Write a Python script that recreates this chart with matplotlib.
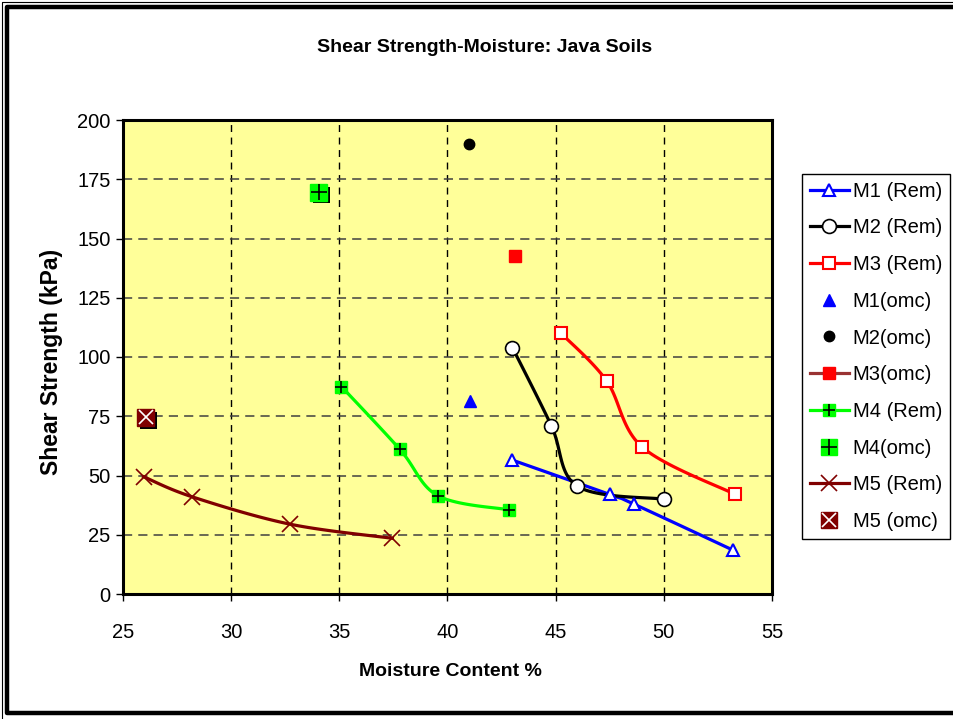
import numpy as np
import matplotlib
matplotlib.use("Agg")
import matplotlib.pyplot as plt
import matplotlib.patheffects as pe
from matplotlib.lines import Line2D

# ---------------- data ----------------
m1_rem_x = [43.0, 47.5, 48.6, 53.2]
m1_rem_y = [56.5, 42.0, 38.0, 18.5]
m2_rem_x = [43.0, 44.8, 46.0, 50.0]
m2_rem_y = [104.0, 71.0, 45.5, 40.0]
m3_rem_x = [45.25, 47.35, 49.0, 53.3]
m3_rem_y = [110.0, 90.0, 62.0, 42.0]
m4_rem_x = [35.1, 37.8, 39.55, 42.85]
m4_rem_y = [87.5, 61.0, 41.5, 35.5]
m5_rem_x = [25.95, 28.2, 32.7, 37.45]
m5_rem_y = [49.5, 41.0, 29.5, 23.5]
m1_omc = (41.05, 81.5)
m2_omc = (41.0, 190.0)
m3_omc = (43.1, 142.5)
m4_omc = (34.05, 169.5)
m5_omc = (26.05, 74.5)

x_ticks = [25, 30, 35, 40, 45, 50, 55]
y_ticks = [0, 25, 50, 75, 100, 125, 150, 175, 200]

legend_labels = ["M1 (Rem)", "M2 (Rem)", "M3 (Rem)", "M1(omc)", "M2(omc)",
                 "M3(omc)", "M4 (Rem)", "M4(omc)", "M5 (Rem)", "M5 (omc)"]

title = "Shear Strength-Moisture: Java Soils"
xlabel = "Moisture Content %"
ylabel = "Shear Strength (kPa)"

FONT = ["Liberation Sans", "DejaVu Sans"]


def smooth(xs, ys, n=24):
    """Uniform Catmull-Rom curve through the points (Excel-style smoothing)."""
    p = np.column_stack([xs, ys]).astype(float)
    p = np.vstack([p[0], p, p[-1]])
    out = []
    t = np.linspace(0, 1, n)[:, None]
    for i in range(1, len(p) - 2):
        p0, p1, p2, p3 = p[i - 1], p[i], p[i + 1], p[i + 2]
        seg = 0.5 * ((2 * p1) + (-p0 + p2) * t + (2 * p0 - 5 * p1 + 4 * p2 - p3) * t ** 2
                     + (-p0 + 3 * p1 - 3 * p2 + p3) * t ** 3)
        out.append(seg if i == 1 else seg[1:])
    c = np.vstack(out)
    return c[:, 0], c[:, 1]


fig = plt.figure(figsize=(9.54, 7.19), dpi=100)
fig.patch.set_facecolor("white")

# outer frame (open on the right, as in the reference crop)
W, H = 954.0, 719.0
fig.add_artist(Line2D(np.array([1000, 7, 7, 1000]) / W, 1 - np.array([7, 7, 712.5, 712.5]) / H,
                      transform=fig.transFigure, lw=3.2, color="black"))
fig.add_artist(Line2D(np.array([1000, 1.5, 1.5]) / W, 1 - np.array([1.5, 1.5, 719]) / H,
                      transform=fig.transFigure, lw=0.8, color="black"))

ax = fig.add_axes([123 / W, 1 - 594 / H, 649 / W, 474 / H])
ax.set_facecolor("#FFFF99")
ax.set_xlim(25, 55)
ax.set_ylim(0, 200)
ax.set_xticks(x_ticks)
ax.set_yticks(y_ticks)
for s in ax.spines.values():
    s.set_linewidth(2.2)
    s.set_color("black")
ax.tick_params(direction="out", length=5, width=1, colors="black")
ax.tick_params(axis="y", pad=4)
ax.tick_params(axis="x", pad=16)
for lab in ax.get_xticklabels() + ax.get_yticklabels():
    lab.set_family(FONT)
    lab.set_fontsize(14.5)

# grid
for xv in x_ticks[1:-1]:
    ax.axvline(xv, color="black", lw=1, ls=(0, (5, 4)), zorder=1)
for yv in y_ticks[1:-1]:
    ax.axhline(yv, color="#404040", lw=1.1, ls=(0, (6, 4)), zorder=1)

LW = 2.3
# M1 rem
sx, sy = smooth(m1_rem_x, m1_rem_y)
ax.plot(sx, sy, color="#0000FF", lw=LW, zorder=3)
ax.plot(m1_rem_x, m1_rem_y, ls="none", marker="^", ms=9, mfc="white", mec="#0000FF", mew=1.5, zorder=4)
# M2 rem
sx, sy = smooth(m2_rem_x, m2_rem_y)
ax.plot(sx, sy, color="black", lw=LW, zorder=3)
ax.plot(m2_rem_x, m2_rem_y, ls="none", marker="o", ms=10, mfc="white", mec="black", mew=1.2, zorder=4)
# M3 rem
sx, sy = smooth(m3_rem_x, m3_rem_y)
ax.plot(sx, sy, color="#FF0000", lw=LW, zorder=3)
ax.plot(m3_rem_x, m3_rem_y, ls="none", marker="s", ms=8, mfc="white", mec="#FF0000", mew=1.5, zorder=4)
# M4 rem
sx, sy = smooth(m4_rem_x, m4_rem_y)
ax.plot(sx, sy, color="#00FF00", lw=LW, zorder=3)
ax.plot(m4_rem_x, m4_rem_y, ls="none", marker="s", ms=9, mfc="#00FF00", mec="#00FF00", zorder=4)
ax.plot(m4_rem_x, m4_rem_y, ls="none", marker="+", ms=8, mec="black", mew=1.2, zorder=5)
# M5 rem
sx, sy = smooth(m5_rem_x, m5_rem_y)
ax.plot(sx, sy, color="#800000", lw=LW, zorder=3)
ax.plot(m5_rem_x, m5_rem_y, ls="none", marker="x", ms=11, mec="#800000", mew=1.2, zorder=4)

# omc points
ax.plot([m1_omc[0]], [m1_omc[1]], ls="none", marker="^", ms=9, mfc="#0000FF", mec="#0000FF", zorder=4)
ax.plot([m2_omc[0]], [m2_omc[1]], ls="none", marker="o", ms=7.5, mfc="black", mec="black", zorder=4)
ax.plot([m3_omc[0]], [m3_omc[1]], ls="none", marker="s", ms=9, mfc="#FF0000", mec="#FF0000", zorder=4)
shadow = [pe.SimplePatchShadow(offset=(2, -2), shadow_rgbFace="black", alpha=1.0), pe.Normal()]
ax.plot([m4_omc[0]], [m4_omc[1]], ls="none", marker="s", ms=12, mfc="#00FF00", mec="#00FF00",
        zorder=4, path_effects=shadow)
ax.plot([m4_omc[0]], [m4_omc[1]], ls="none", marker="+", ms=11, mec="black", mew=1.2, zorder=5)
ax.plot([m5_omc[0]], [m5_omc[1]], ls="none", marker="s", ms=12, mfc="#800000", mec="#800000",
        zorder=4, path_effects=shadow)
ax.plot([m5_omc[0]], [m5_omc[1]], ls="none", marker="x", ms=10, mec="white", mew=1.2, zorder=5)

# labels
fig.text(485 / W, 1 - 47 / H, title, ha="center", va="center", fontsize=14,
         fontweight="bold", family=FONT)
ax.set_xlabel(xlabel, fontsize=14, fontweight="bold", family=FONT)
ax.xaxis.set_label_coords((450 - 123) / 649, (594 - 672) / 474)
ax.xaxis.label.set_va("center")
ax.set_ylabel(ylabel, fontsize=16.5, fontweight="bold", family=FONT)
ax.yaxis.set_label_coords((52 - 123) / 649, (594 - 362) / 474)
ax.yaxis.label.set_va("center")

# legend proxies
h = [
    Line2D([], [], color="#0000FF", lw=LW, marker="^", ms=9, mfc="white", mec="#0000FF", mew=1.5),
    Line2D([], [], color="black", lw=LW, marker="o", ms=10, mfc="white", mec="black", mew=1.2),
    Line2D([], [], color="#FF0000", lw=LW, marker="s", ms=8, mfc="white", mec="#FF0000", mew=1.5),
    Line2D([], [], ls="none", marker="^", ms=9, mfc="#0000FF", mec="#0000FF"),
    Line2D([], [], ls="none", marker="o", ms=7.5, mfc="black", mec="black"),
    Line2D([], [], color="#993333", lw=LW, marker="s", ms=9, mfc="#FF0000", mec="#FF0000"),
    (Line2D([], [], color="#00FF00", lw=LW, marker="s", ms=9, mfc="#00FF00", mec="#00FF00"),
     Line2D([], [], ls="none", marker="+", ms=8, mec="black", mew=1.2)),
    (Line2D([], [], ls="none", marker="s", ms=12, mfc="#00FF00", mec="#00FF00"),
     Line2D([], [], ls="none", marker="+", ms=11, mec="black", mew=1.2)),
    Line2D([], [], color="#800000", lw=LW, marker="x", ms=11, mec="#800000", mew=1.2),
    (Line2D([], [], ls="none", marker="s", ms=12, mfc="#800000", mec="#800000"),
     Line2D([], [], ls="none", marker="x", ms=10, mec="white", mew=1.2)),
]
FS_LEG = 14.5
fpx = FS_LEG * 100 / 72
leg = fig.legend(h, legend_labels, loc="upper left",
                 bbox_to_anchor=(802 / W, 1 - 174 / H),
                 prop={"family": FONT, "size": FS_LEG},
                 frameon=True, fancybox=False, edgecolor="black", framealpha=1,
                 handlelength=39 / fpx, handletextpad=4 / fpx, labelspacing=0.88,
                 borderpad=0.38, borderaxespad=0)
leg.get_frame().set_linewidth(1.0)

fig.savefig("out.png", dpi=100, facecolor="white")
